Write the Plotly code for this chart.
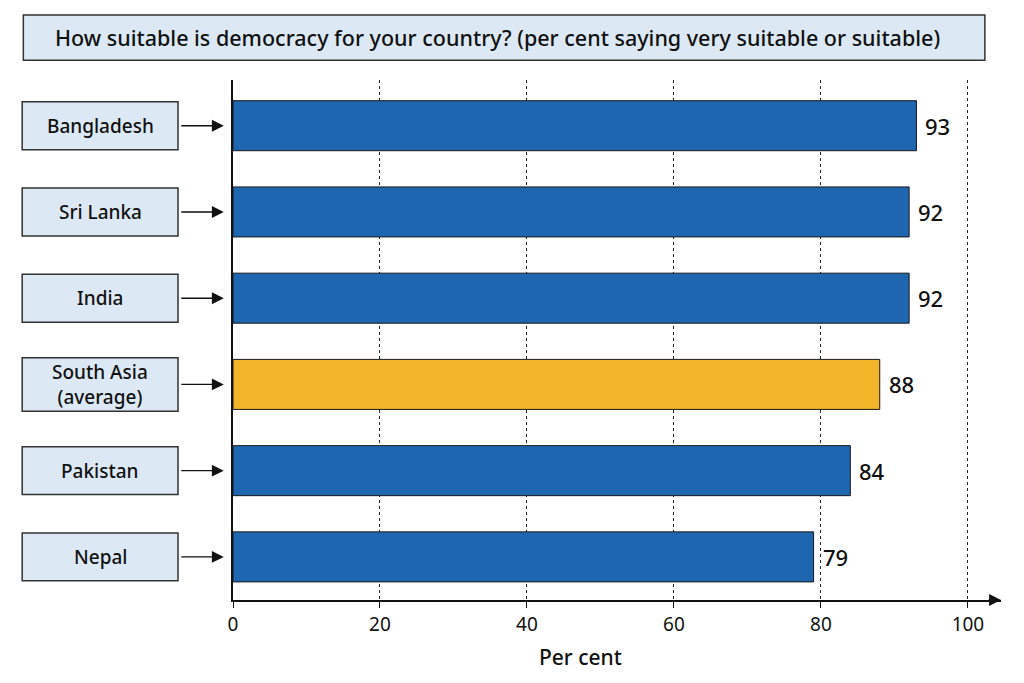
import plotly.graph_objects as go

# data, bottom to top as plotly draws it
countries = ["Nepal", "Pakistan", "South Asia<br>(average)", "India", "Sri Lanka", "Bangladesh"]
values = [79, 84, 88, 92, 92, 93]
is_average = [False, False, True, False, False, False]
x_ticks = [0, 20, 40, 60, 80, 100]

BLUE = "#1f66b0"
GOLD = "#f2b52a"
BOX_FILL = "#dce9f5"
BOX_LINE = "#333333"
FONT = "Noto Sans"

bar_colors = [GOLD if a else BLUE for a in is_average]

fig = go.Figure()
fig.add_trace(go.Bar(
    x=values,
    y=list(range(len(countries))),
    orientation="h",
    marker=dict(color=bar_colors, line=dict(color="#1a1a1a", width=1)),
    width=0.58,
    hoverinfo="skip",
))

shapes = []
annotations = []

# title box
shapes.append(dict(type="rect", xref="paper", yref="paper",
                   x0=-0.273, x1=0.979, y0=1.038, y1=1.125,
                   fillcolor=BOX_FILL, line=dict(color=BOX_LINE, width=1.5), layer="below"))
annotations.append(dict(xref="paper", yref="paper", x=0.344, y=1.0815,
                        xanchor="center", yanchor="middle",
                        text="How suitable is democracy for your country? (per cent saying very suitable or suitable)",
                        showarrow=False, font=dict(size=21.5, color="#111111", family=FONT, weight=500)))

# category boxes with arrows, value labels
for i, name in enumerate(countries):
    half = 0.31 if "<br>" in name else 0.278
    shapes.append(dict(type="rect", xref="paper", yref="y",
                       x0=-0.2745, x1=-0.0716, y0=i - half, y1=i + half,
                       fillcolor=BOX_FILL, line=dict(color=BOX_LINE, width=1.5)))
    annotations.append(dict(xref="paper", yref="y", x=-0.173, y=i, text=name,
                            xanchor="center", yanchor="middle",
                            showarrow=False, font=dict(size=19, color="#111111", family=FONT, weight=500)))
    annotations.append(dict(xref="paper", yref="y", x=-0.012, y=i, axref="pixel", ayref="pixel",
                            ax=-44, ay=0, text="", showarrow=True, arrowhead=2,
                            arrowsize=1.7, arrowwidth=1.4, arrowcolor="#111111"))
    annotations.append(dict(xref="x", yref="y", x=values[i], y=i, text=str(values[i]),
                            xanchor="left", yanchor="middle", xshift=7,
                            showarrow=False, font=dict(size=22, color="#111111", family=FONT, weight=500)))

# arrow at the end of the x axis
annotations.append(dict(xref="paper", yref="paper", x=1.0, y=0, ax=-14, ay=0, text="",
                        showarrow=True, arrowhead=2, arrowsize=1.7, arrowwidth=1.4,
                        arrowcolor="#111111"))

# axis title
annotations.append(dict(xref="paper", yref="paper", x=0.452, y=-0.11,
                        xanchor="center", yanchor="middle", text="Per cent",
                        showarrow=False, font=dict(size=21, color="#111111", family=FONT, weight=500)))

fig.update_layout(
    width=1024, height=683,
    margin=dict(l=225, r=31, t=72, b=91),
    paper_bgcolor="white", plot_bgcolor="white",
    showlegend=False,
    shapes=shapes,
    annotations=annotations,
    font=dict(family=FONT, color="#111111"),
)
fig.update_xaxes(
    range=[0, 104.5], tickvals=x_ticks, ticktext=[str(t) for t in x_ticks],
    tickfont=dict(size=19), ticks="outside", ticklen=6, tickcolor="#111111",
    showgrid=True, gridcolor="#222222", gridwidth=1, griddash="dot",
    showline=True, linecolor="#111111", linewidth=1.5, zeroline=False,
)
fig.update_yaxes(
    range=[-0.5, 5.53], showticklabels=False, showgrid=False, zeroline=False,
    showline=True, linecolor="#111111", linewidth=1.5,
)

fig.write_html("out.html")
